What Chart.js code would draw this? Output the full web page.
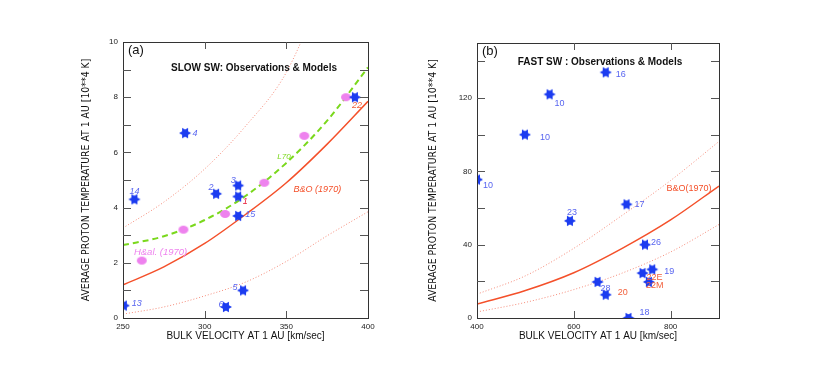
<!DOCTYPE html>
<html>
<head>
<meta charset="utf-8">
<script src="https://cdn.jsdelivr.net/npm/chart.js@4.4.1/dist/chart.umd.min.js"></script>
<style>
  body { margin: 0; background: #fff; }
  #wrap { position: relative; width: 814px; height: 388px; }
  canvas { position: absolute; top: 0; }
  #chartA { left: 0; }
  #chartB { left: 400px; }
</style>
</head>
<body>
<div id="wrap">
  <canvas id="chartA" width="400" height="388"></canvas>
  <canvas id="chartB" width="414" height="388"></canvas>
</div>
<script>
// ---- panel (a): slow solar wind ----
const slowStarX = [288, 257, 307, 320.5, 320.5, 320.5, 392, 323.5, 313, 250.5];
const slowStarY = [6.7, 4.3, 4.5, 4.8, 4.4, 3.7, 8.0, 1.0, 0.4, 0.45];
const slowStarLabels = ["4", "14", "2", "3", "1", "15", "22", "5", "6", "13"];
const slowHelX = [261.5, 287, 312.5, 336.5, 361, 386.5];
const slowHelY = [2.08, 3.2, 3.77, 4.9, 6.6, 8.0];
const slowCurveX = [250, 275, 300, 325, 350, 375, 400];
const slowL70 = [2.64, 2.96, 3.55, 4.42, 5.62, 7.15, 9.08];
const slowBO = [1.2, 1.85, 2.7, 3.75, 4.9, 6.3, 7.85];
const slowBOUpper = [3.26, 4.2, 5.4, 6.95, 8.9, 12.3, 16.0];
const slowBOLower = [0.14, 0.4, 0.8, 1.3, 2.05, 2.98, 3.85];

// ---- panel (b): fast solar wind ----
const fastStarX = [666, 550, 499, 400, 709, 592, 747, 762, 742, 755, 649, 666, 713];
const fastStarY = [134, 122, 100, 75.5, 62, 53, 40, 26.5, 24.5, 19.7, 19.7, 12.7, 0];
const fastStarLabels = ["16", "10", "10", "10", "17", "23", "26", "19", "22E", "22M", "28", "20", "18"];
const fastCurveX = [400, 500, 600, 700, 800, 900];
const fastBO = [7.6, 15, 24.7, 38, 53.5, 72];
const fastBOUpper = [13, 23, 38, 56, 75, 96.3];
const fastBOLower = [3.3, 8.5, 15.5, 24.5, 36, 51];

// label placement (pixels from the point) and colours
const slowLabelStyle = [
  [10, 0, "b"], [0, -8, "b"], [-5, -6, "b"], [-5, -5, "b"], [7, 5, "r1"],
  [12, -1, "b"], [2, 8, "r"], [-8, -3, "b"], [-5, -2, "b"], [13, -2, "b"]
];
const fastLabelStyle = [
  [15, 2, "b"], [10, 9, "b"], [20, 3, "b"], [11, 6, "b"], [13, 0, "b"], [2, -8, "b"],
  [11, -2, "b"], [17, 2, "b"], [12, 4, "r"], [6, 4, "r"], [8, 7, "b"], [17, -2, "r"], [16, -5, "b"]
];
const labelColors = { b: "#5865f0", r: "#f2603c", r1: "#e8203c" };

const starBlue = "#1c3cf0";
const redLine = "#f4502a";
const dotRed = "#f58a78";
const greenDash = "#7ad81c";
const violet = "#ee82ee";

function starImage(color, r) {
  const c = document.createElement("canvas");
  const s = Math.ceil(r * 2 + 2);
  c.width = s; c.height = s;
  const g = c.getContext("2d");
  g.fillStyle = color;
  [0, Math.PI].forEach(a0 => {
    g.beginPath();
    for (let k = 0; k < 3; k++) {
      const a = a0 + k * 2 * Math.PI / 3;
      const px = s / 2 + r * Math.cos(a), py = s / 2 + r * Math.sin(a);
      if (k) g.lineTo(px, py); else g.moveTo(px, py);
    }
    g.closePath();
    g.fill();
  });
  return c;
}

function ellipseImage(color, w, h) {
  const c = document.createElement("canvas");
  c.width = w + 2; c.height = h + 2;
  const g = c.getContext("2d");
  g.fillStyle = color;
  g.beginPath();
  g.ellipse(c.width / 2, c.height / 2, w / 2, h / 2, 0, 0, Math.PI * 2);
  g.fill();
  return c;
}

const starImg = starImage(starBlue, 6);
const dotImg = ellipseImage(violet, 10, 8);

function pts(xs, ys) {
  return xs.map((x, i) => ({ x: x, y: ys[i] }));
}

function curve(xs, ys, color, width, dash) {
  return {
    type: "line",
    data: pts(xs, ys),
    borderColor: color,
    borderWidth: width,
    borderDash: dash,
    pointRadius: 0,
    cubicInterpolationMode: "monotone",
    fill: false,
    order: 5
  };
}

// draws frame, inward tick marks, panel titles, point labels and curve names
const decorPlugin = {
  id: "decor",
  afterDatasetsDraw(chart, args, o) {
    const ctx = chart.ctx;
    const a = chart.chartArea;
    const xs = chart.scales.x, ys = chart.scales.y;
    ctx.save();
    ctx.strokeStyle = "#333";
    ctx.lineWidth = 1;
    ctx.strokeRect(Math.round(a.left) + 0.5, Math.round(a.top) + 0.5, Math.round(a.width), Math.round(a.height));
    ctx.strokeStyle = "#555";
    ctx.beginPath();
    o.yTicks.forEach(v => {
      const py = Math.round(ys.getPixelForValue(v)) + 0.5;
      ctx.moveTo(a.left, py); ctx.lineTo(a.left + 8, py);
      ctx.moveTo(a.right - 8, py); ctx.lineTo(a.right, py);
    });
    o.xTicks.forEach(v => {
      const px = Math.round(xs.getPixelForValue(v)) + 0.5;
      ctx.moveTo(px, a.bottom); ctx.lineTo(px, a.bottom - 7);
      ctx.moveTo(px, a.top); ctx.lineTo(px, a.top + 7);
    });
    ctx.stroke();

    ctx.fillStyle = "#111";
    ctx.textBaseline = "middle";
    ctx.textAlign = "left";
    ctx.font = "13px 'Liberation Sans', Arial";
    ctx.fillText(o.tag, a.left + 5, a.top + 8);
    ctx.font = "bold 10px 'Liberation Sans', Arial";
    ctx.textAlign = "center";
    ctx.fillText(o.title, o.titleX, o.titleY);

    // point labels
    const meta = chart.getDatasetMeta(o.starIndex);
    ctx.font = o.labelFont;
    meta.data.forEach((el, i) => {
      const st = o.labelStyle[i];
      ctx.fillStyle = labelColors[st[2]];
      ctx.fillText(o.labels[i], el.x + st[0], el.y + st[1]);
    });

    // curve names
    o.notes.forEach(n => {
      ctx.font = n.font;
      ctx.fillStyle = n.color;
      ctx.fillText(n.text, xs.getPixelForValue(n.x), ys.getPixelForValue(n.y));
    });
    ctx.restore();
  }
};

function axes(xmin, xmax, xstep, ymin, ymax, ystep, yWidth) {
  const tickFont = { family: "'Liberation Sans', Arial", size: 8 };
  return {
    x: {
      type: "linear", min: xmin, max: xmax,
      grid: { display: false, drawTicks: false },
      border: { display: false },
      ticks: { stepSize: xstep, includeBounds: false, color: "#222", font: tickFont, padding: 4, maxRotation: 0 },
      title: {
        display: true, text: "BULK VELOCITY AT 1 AU [km/sec]", color: "#111",
        font: { family: "'Liberation Sans', Arial", size: 10 }, padding: 0
      },
      afterFit(s) { s.height = 24; }
    },
    y: {
      type: "linear", min: ymin, max: ymax,
      grid: { display: false, drawTicks: false },
      border: { display: false },
      ticks: { stepSize: ystep, includeBounds: false, color: "#222", font: tickFont, padding: 5 },
      title: {
        display: true, text: "AVERAGE PROTON TEMPERATURE AT 1 AU [10**4 K]", color: "#111",
        font: { family: "'Liberation Sans Narrow', 'DejaVu Sans Condensed', 'Liberation Sans', Arial", size: 10.4 }, padding: 0
      },
      afterFit(s) { s.width = yWidth; }
    }
  };
}

const starSet = (xs, ys) => ({
  type: "scatter", data: pts(xs, ys), pointStyle: starImg, pointRadius: 6, order: 1
});

new Chart(document.getElementById("chartA"), {
  type: "scatter",
  data: {
    datasets: [
      starSet(slowStarX, slowStarY),
      { type: "scatter", data: pts(slowHelX, slowHelY), pointStyle: dotImg, pointRadius: 5, order: 2 },
      curve(slowCurveX, slowBOUpper, dotRed, 1, [1, 2]),
      curve(slowCurveX, slowBOLower, dotRed, 1, [1, 2]),
      curve(slowCurveX, slowBO, redLine, 1.5, []),
      curve(slowCurveX, slowL70, greenDash, 2, [6, 4])
    ]
  },
  options: {
    responsive: false, animation: false,
    layout: { padding: { left: 80, top: 42, right: 32, bottom: 46 } },
    scales: axes(250, 400, 50, 0, 10, 2, 43),
    plugins: {
      legend: { display: false }, tooltip: { enabled: false },
      decor: {
        yTicks: [1, 2, 3, 4, 5, 6, 7, 8, 9], xTicks: [300, 350],
        tag: "(a)", title: "SLOW SW: Observations & Models", titleX: 254, titleY: 68,
        starIndex: 0, labels: slowStarLabels, labelStyle: slowLabelStyle,
        labelFont: "italic 9px 'Liberation Sans', Arial",
        notes: [
          { text: "B&O (1970)", x: 369, y: 4.67, color: redLine, font: "italic 9px 'Liberation Sans', Arial" },
          { text: "L70", x: 348.6, y: 5.83, color: greenDash, font: "italic 8px 'Liberation Sans', Arial" },
          { text: "H&al. (1970)", x: 273, y: 2.39, color: violet, font: "italic 9.5px 'Liberation Sans', Arial" }
        ]
      }
    }
  },
  plugins: [decorPlugin]
});

new Chart(document.getElementById("chartB"), {
  type: "scatter",
  data: {
    datasets: [
      starSet(fastStarX, fastStarY),
      curve(fastCurveX, fastBOUpper, dotRed, 1, [1, 2]),
      curve(fastCurveX, fastBOLower, dotRed, 1, [1, 2]),
      curve(fastCurveX, fastBO, redLine, 1.5, [])
    ]
  },
  options: {
    responsive: false, animation: false,
    layout: { padding: { left: 27, top: 43, right: 95, bottom: 46 } },
    scales: axes(400, 900, 200, 0, 150, 40, 50),
    plugins: {
      legend: { display: false }, tooltip: { enabled: false },
      decor: {
        yTicks: [20, 40, 60, 80, 100, 120, 140], xTicks: [600, 800],
        tag: "(b)", title: "FAST SW : Observations & Models", titleX: 200, titleY: 62,
        starIndex: 0, labels: fastStarLabels, labelStyle: fastLabelStyle,
        labelFont: "9px 'Liberation Sans', Arial",
        notes: [
          { text: "B&O(1970)", x: 838, y: 70.8, color: redLine, font: "9px 'Liberation Sans', Arial" }
        ]
      }
    }
  },
  plugins: [decorPlugin]
});
</script>
</body>
</html>
